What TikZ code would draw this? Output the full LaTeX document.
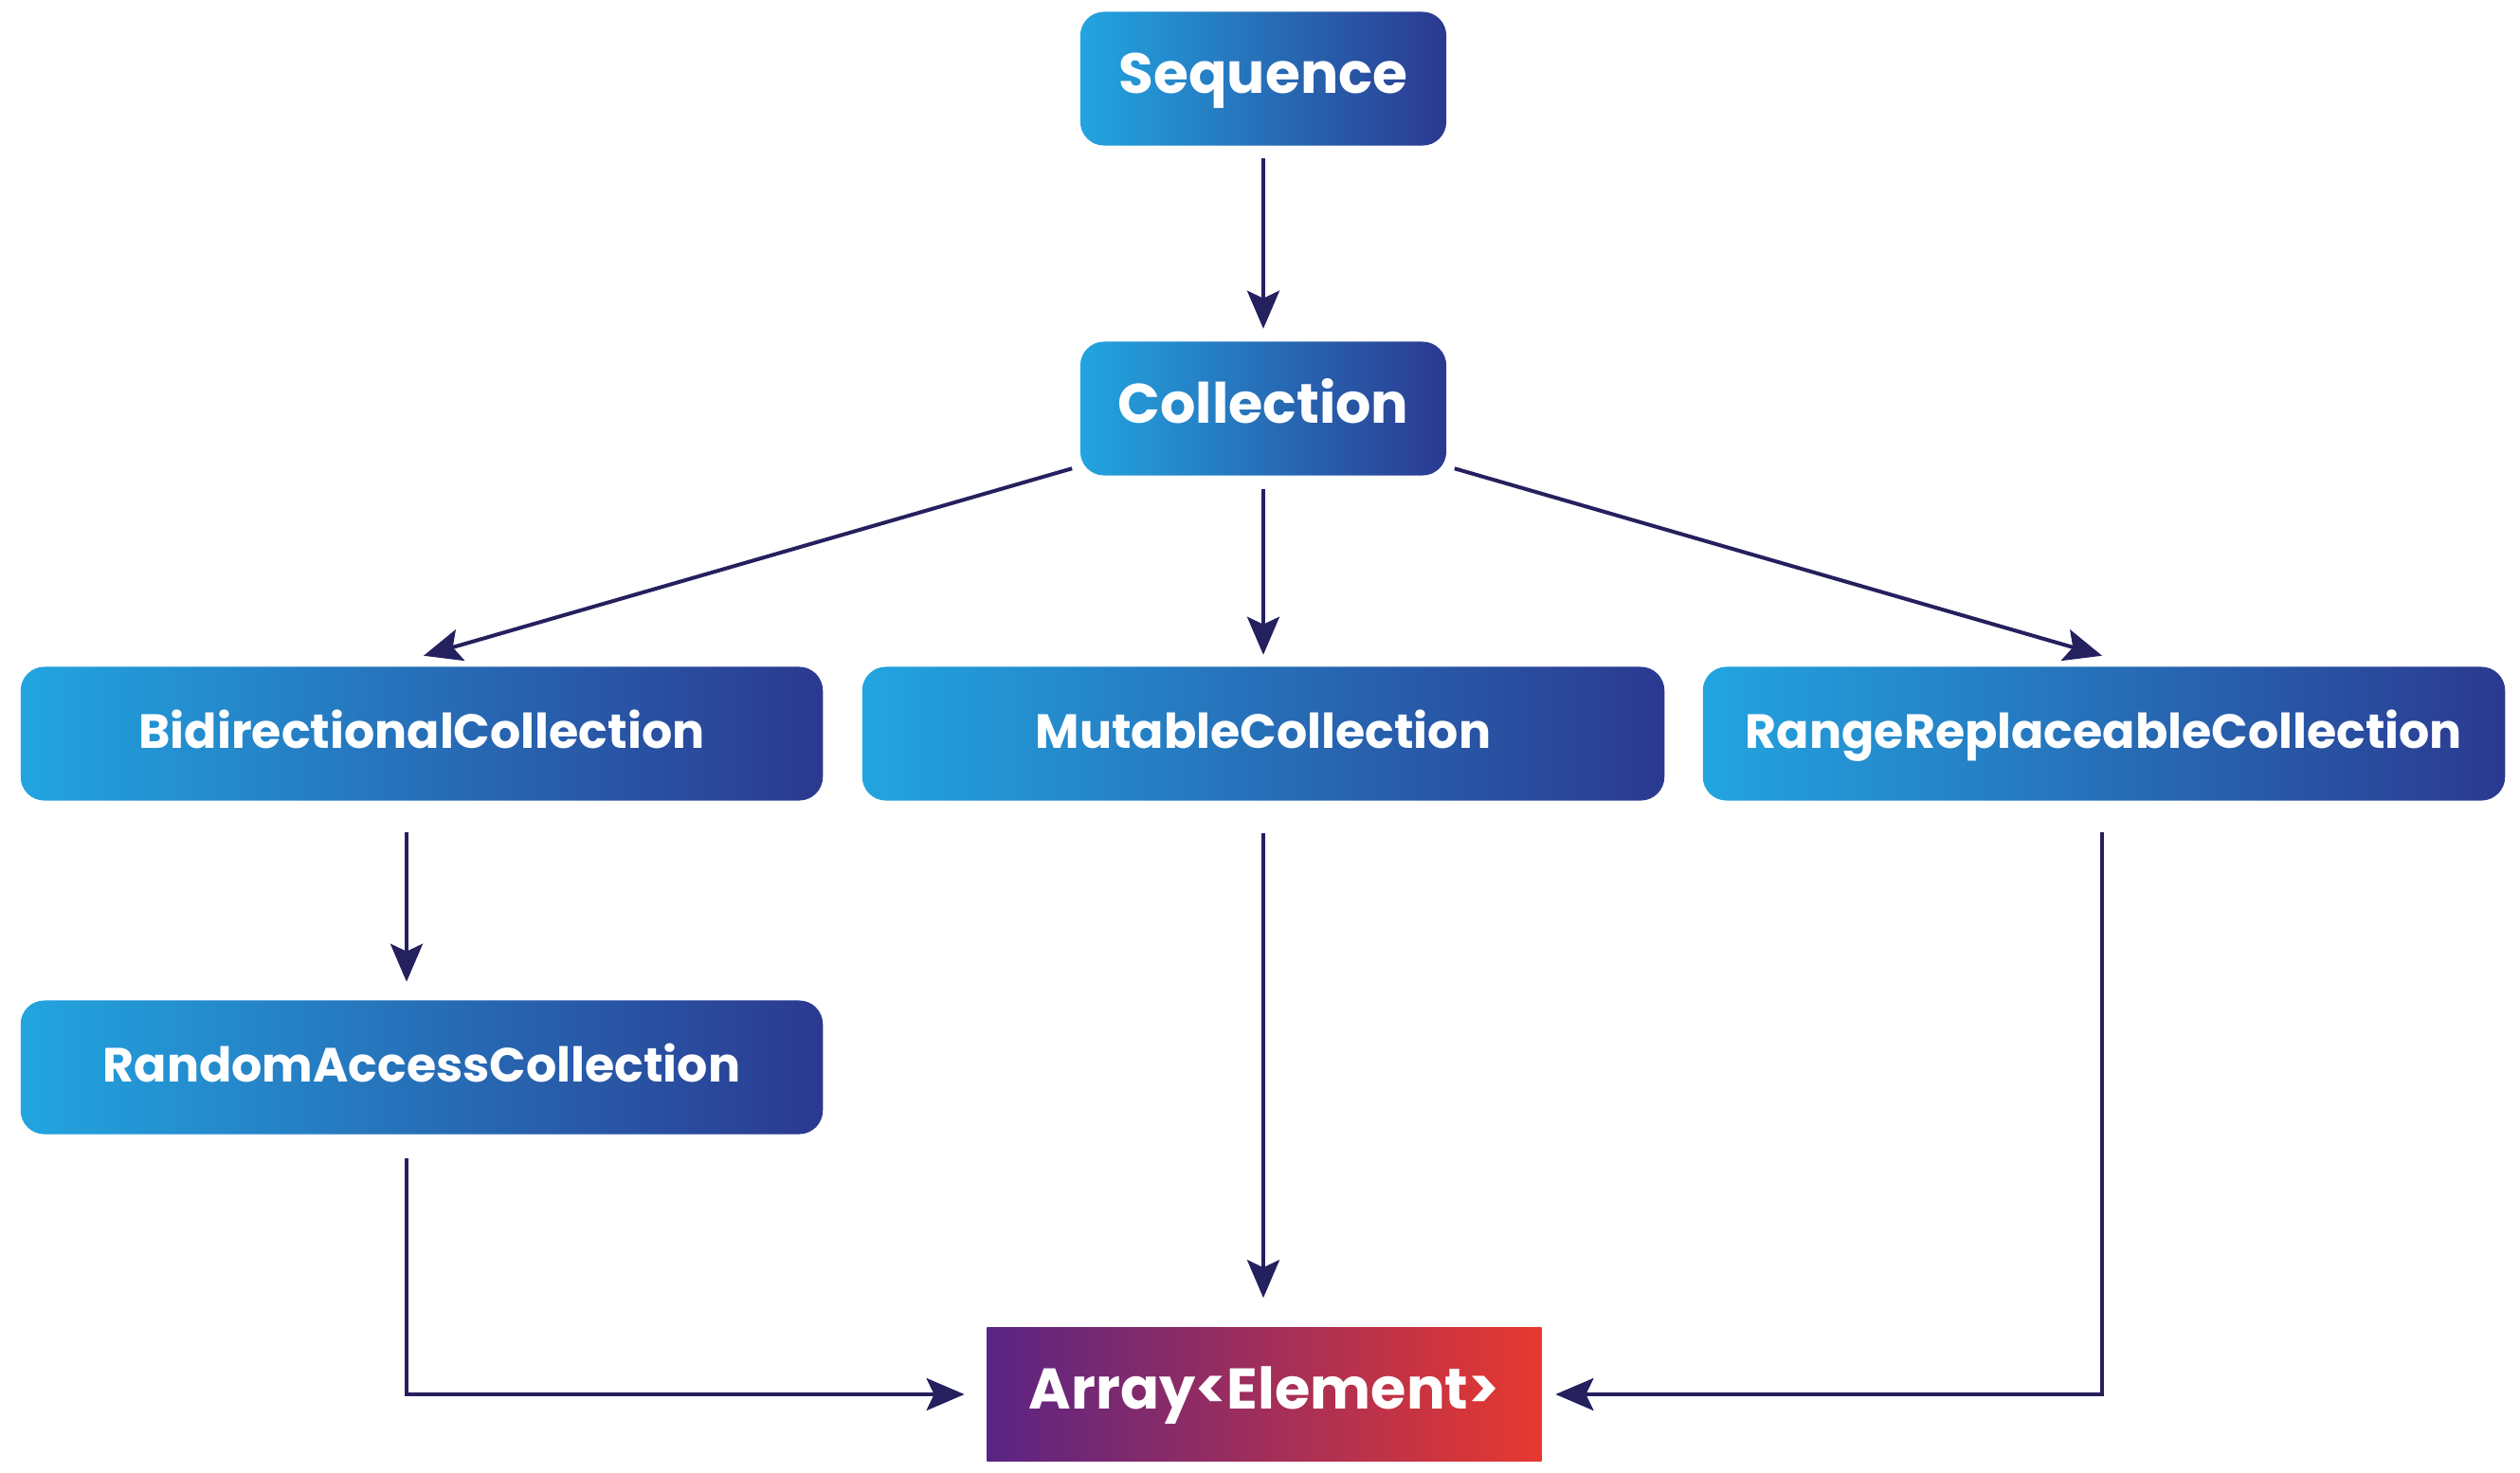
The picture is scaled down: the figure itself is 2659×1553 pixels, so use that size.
\documentclass[tikz,border=0pt]{standalone}
\usepackage{fontspec}
\setmainfont{Poppins}
\usetikzlibrary{arrows.meta,calc}
\definecolor{bluelight}{HTML}{22A5E0}
\definecolor{bluedark}{HTML}{2B3990}
\definecolor{arrpurple}{HTML}{5A2484}
\definecolor{arrred}{HTML}{E8382F}
\definecolor{linecol}{HTML}{25205E}
\begin{document}
\begin{tikzpicture}[x=0.01cm,y=-0.01cm,
  bluebox/.style={rounded corners=0.25cm, left color=bluelight, right color=bluedark,
    text=white, font=\bfseries, inner sep=0pt, minimum height=1.41cm,
    text height=0.96em, text depth=0.1em},
  topbox/.style={bluebox, minimum width=3.86cm},
  rowbox/.style={bluebox, minimum width=8.46cm, font=\fontsize{14.4}{16}\selectfont\bfseries},
  redbox/.style={left color=arrpurple, right color=arrred, text=white, inner sep=0pt,
    minimum width=5.85cm, minimum height=1.40cm, font=\fontsize{17.2}{19}\selectfont\bfseries,
    text height=0.96em, text depth=0.1em},
  arr/.style={draw=linecol, line width=0.04cm, -{Stealth[length=0.40cm, width=0.34cm, inset=0.08cm]}}
]
\useasboundingbox (0,0) rectangle (2659,1553);
\fill[white] (0,0) rectangle (2659,1553);
\node[topbox, font=\fontsize{17}{19}\selectfont\bfseries] (seq) at (1333,83) {Sequence};
\node[topbox, font=\fontsize{16.7}{19}\selectfont\bfseries] (coll) at (1333,431) {Collection};
\node[rowbox] (bidir) at (445,774) {BidirectionalCollection};
\node[rowbox] (mut) at (1333,774) {MutableCollection};
\node[rowbox] (range) at (2220,774) {RangeReplaceableCollection};
\node[rowbox] (random) at (445,1126) {RandomAccessCollection};
\node[redbox] (array) at (1334,1471) {Array<Element>};

\draw[arr] ([yshift=-0.13cm]seq.south) -- ([yshift=0.13cm]coll.north);
\draw[arr] ([yshift=-0.14cm]coll.south) -- ([yshift=0.12cm]mut.north);
\draw[arr] ([xshift=-0.08cm,yshift=0.08cm]coll.south west) -- ([xshift=0.02cm,yshift=0.11cm]bidir.north);
\draw[arr] ([xshift=0.08cm,yshift=0.08cm]coll.south east) -- ([xshift=-0.02cm,yshift=0.11cm]range.north);
\draw[arr] ([xshift=-0.16cm,yshift=-0.33cm]bidir.south) -- ([xshift=-0.16cm,yshift=0.19cm]random.north);
\draw[arr] ([yshift=-0.34cm]mut.south) -- ([xshift=-0.01cm,yshift=0.31cm]array.north);
\draw[arr] ([xshift=-0.16cm,yshift=-0.25cm]random.south) |- ([xshift=-0.23cm]array.west);
\draw[arr] ([xshift=-0.02cm,yshift=-0.33cm]range.south) |- ([xshift=0.14cm]array.east);
\end{tikzpicture}
\end{document}
